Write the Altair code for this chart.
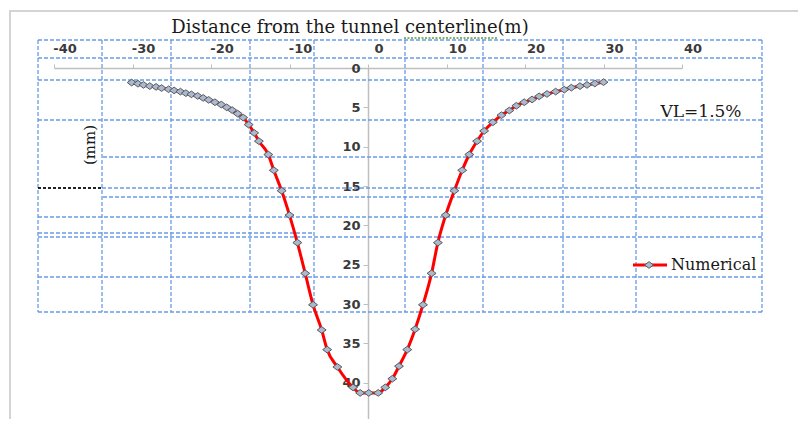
import altair as alt
import pandas as pd

# ---------------- data ----------------
X_LEFT = [-30.1, -29.3, -28.6, -27.8, -27.0, -26.3, -25.4, -24.7, -23.9, -23.2,
          -22.5, -21.7, -21.0, -20.3, -19.5, -18.7, -18.0, -17.3, -16.6, -15.9,
          -15.2, -14.5, -13.9, -12.7, -12.0, -11.0, -10.0, -9.0, -8.0, -7.0,
          -5.9, -5.2, -3.9, -1.9, -1.0, 0.1]
Y_LEFT = [1.85, 2.0, 2.15, 2.3, 2.4, 2.55, 2.7, 2.85, 3.0, 3.2,
          3.35, 3.55, 3.8, 4.05, 4.35, 4.65, 5.0, 5.35, 5.8, 6.3,
          7.2, 8.25, 9.3, 11.0, 13.0, 15.6, 18.7, 22.2, 26.1, 30.1,
          33.3, 35.8, 38.0, 40.6, 41.3, 41.3]
X_RIGHT = [1.3, 2.2, 3.1, 3.95, 5.0, 6.0, 7.0, 8.1, 8.9, 9.9,
           11.0, 12.0, 12.9, 13.9, 14.8, 15.9, 17.0, 18.0, 18.9, 19.9,
           20.9, 21.8, 22.8, 23.9, 25.0, 25.9, 27.0, 27.9, 28.9, 30.0]
Y_RIGHT = [41.3, 40.6, 39.5, 37.9, 35.8, 33.2, 30.1, 26.1, 22.2, 18.7,
           15.6, 13.0, 11.0, 9.3, 8.0, 6.9, 6.0, 5.4, 4.8, 4.35,
           4.0, 3.6, 3.3, 3.0, 2.75, 2.5, 2.3, 2.15, 1.97, 1.8]
X_TICKS = [-40, -30, -20, -10, 0, 10, 20, 30, 40]
X_TICK_LABELS = ["-40", "-30", "-20", "-10", "0", "10", "20", "30", "40"]
Y_TICKS = [0, 5, 10, 15, 20, 25, 30, 35, 40]
TITLE = "Distance from the tunnel centerline(m)"
Y_LABEL = "(mm)"
NOTE = "VL=1.5%"
SERIES = "Numerical"

# ---------------- layout (page pixels) ----------------
OX, OY = 54, 68          # page position of the plot origin
PLOT_W, PLOT_H = 628, 351
PX_PER_MM = 7.867

def px(x):
    return x - OX

def py(y):
    return y - OY

# blue dashed table overlay: (y, x1, x2) and (x, y1, y2)
GRID_H = [(40, 38, 762), (58, 38, 762), (80, 38, 762), (120, 38, 762),
          (157, 103, 762), (188, 102, 762), (197, 103, 762), (217, 38, 762),
          (233, 38, 314), (237, 38, 762), (277, 38, 762), (312, 38, 762)]
GRID_V = [(38, 40, 312), (102, 40, 312), (171, 40, 312), (250, 40, 312),
          (314, 40, 312), (405, 40, 312), (483, 40, 312), (563, 40, 312),
          (636, 40, 312), (762, 40, 312)]

GRID_COLOR = "#6a9ce6"
LABEL_FONT = "DejaVu Sans"
SERIF = "DejaVu Serif"

df = pd.DataFrame({"x": X_LEFT + X_RIGHT, "y": Y_LEFT + Y_RIGHT}).sort_values("x")
ticks_df = pd.DataFrame({"t": X_TICKS, "label": X_TICK_LABELS})
one = pd.DataFrame({"k": [0]})

layers = []

# chart frame
layers.append(alt.Chart(one).mark_rect(fillOpacity=0, stroke="#d4d4d4", strokeWidth=2).encode(
    x=alt.value(px(10)), x2=alt.value(px(900)), y=alt.value(py(11)), y2=alt.value(py(500))))

for (y, x1, x2) in GRID_H:
    layers.append(alt.Chart(one).mark_rule(color=GRID_COLOR, strokeDash=[4, 2], strokeWidth=1.3).encode(
        x=alt.value(px(x1)), x2=alt.value(px(x2)), y=alt.value(py(y))))
for (x, y1, y2) in GRID_V:
    layers.append(alt.Chart(one).mark_rule(color=GRID_COLOR, strokeDash=[4, 2], strokeWidth=1.3).encode(
        x=alt.value(px(x)), y=alt.value(py(y1)), y2=alt.value(py(y2))))

# black dotted fragment
layers.append(alt.Chart(one).mark_rule(color="#222222", strokeDash=[3, 2], strokeWidth=2).encode(
    x=alt.value(px(38)), x2=alt.value(px(102)), y=alt.value(py(188))))

# spell-check squiggle under "centerline"
layers.append(alt.Chart(one).mark_rule(color="#5aa02c", strokeDash=[2, 1.5], strokeWidth=1.5).encode(
    x=alt.value(px(404)), x2=alt.value(px(497)), y=alt.value(py(38))))

x_scale = alt.Scale(domain=[-40, 40], nice=False, zero=False)
y_scale = alt.Scale(domain=[0, PLOT_H / PX_PER_MM], reverse=True, nice=False, zero=False)

x_axis = alt.Axis(orient="top", values=X_TICKS, title=None, grid=False, labels=False,
                  domainColor="#bfbfbf", domainWidth=1.5, tickColor="#bfbfbf", tickSize=4)
y_axis = alt.Axis(orient="left", values=Y_TICKS, title=None, grid=False, offset=-(368 - OX),
                  domainColor="#bfbfbf", domainWidth=1.5, tickColor="#bfbfbf", tickSize=5,
                  labelFont=LABEL_FONT, labelFontSize=13, labelFontWeight="bold",
                  labelColor="#3a3a3a", labelPadding=3)

base = alt.Chart(df).encode(
    x=alt.X("x:Q", scale=x_scale, axis=x_axis),
    y=alt.Y("y:Q", scale=y_scale, axis=y_axis),
)

DIAMOND = "M -1 0 L 0 -0.75 L 1 0 L 0 0.75 Z"

# x tick labels (shifted right of their ticks, as in the reference)
layers.append(alt.Chart(ticks_df).mark_text(font=LABEL_FONT, fontSize=13, fontWeight="bold",
                                            color="#3a3a3a", align="center", baseline="middle",
                                            dx=11).encode(
    x=alt.X("t:Q", scale=x_scale), y=alt.value(py(49)), text=alt.Text("label:N")))

layers.append(base.mark_line(color="#ff0000", strokeWidth=3, interpolate="monotone"))
layers.append(base.mark_point(shape=DIAMOND, size=80, filled=True, fill="#aab9cf",
                              stroke="#5a5a5a", strokeWidth=1, opacity=1))

# texts
layers.append(alt.Chart(one).mark_text(font=SERIF, fontSize=18, color="#1a1a1a",
                                       align="center", baseline="alphabetic").encode(
    x=alt.value(px(350)), y=alt.value(py(33)), text=alt.value(TITLE)))
layers.append(alt.Chart(one).mark_text(font=SERIF, fontSize=15, color="#1a1a1a",
                                       align="center", baseline="middle", angle=270).encode(
    x=alt.value(px(90)), y=alt.value(py(145)), text=alt.value(Y_LABEL)))
layers.append(alt.Chart(one).mark_text(font=SERIF, fontSize=17, color="#1a1a1a",
                                       align="center", baseline="middle").encode(
    x=alt.value(px(701)), y=alt.value(py(112)), text=alt.value(NOTE)))

# legend
layers.append(alt.Chart(one).mark_rule(color="#ff0000", strokeWidth=3).encode(
    x=alt.value(px(633)), x2=alt.value(px(667)), y=alt.value(py(265))))
layers.append(alt.Chart(one).mark_point(shape=DIAMOND, size=80, filled=True, fill="#aab9cf",
                                        stroke="#5a5a5a", strokeWidth=1, opacity=1).encode(
    x=alt.value(px(649)), y=alt.value(py(265))))
layers.append(alt.Chart(one).mark_text(font=SERIF, fontSize=16, color="#1a1a1a",
                                       align="left", baseline="middle").encode(
    x=alt.value(px(671)), y=alt.value(py(265)), text=alt.value(SERIES)))

chart = alt.layer(*layers).properties(
    width=PLOT_W, height=PLOT_H,
    autosize=alt.AutoSizeParams(type="none"),
    padding={"left": OX - 8, "top": OY - 8, "right": 790 - (OX - 8) - PLOT_W, "bottom": 0},
    background="white",
).configure_view(stroke=None)

chart.save("out.html", embed_options={"renderer": "svg", "actions": False})
